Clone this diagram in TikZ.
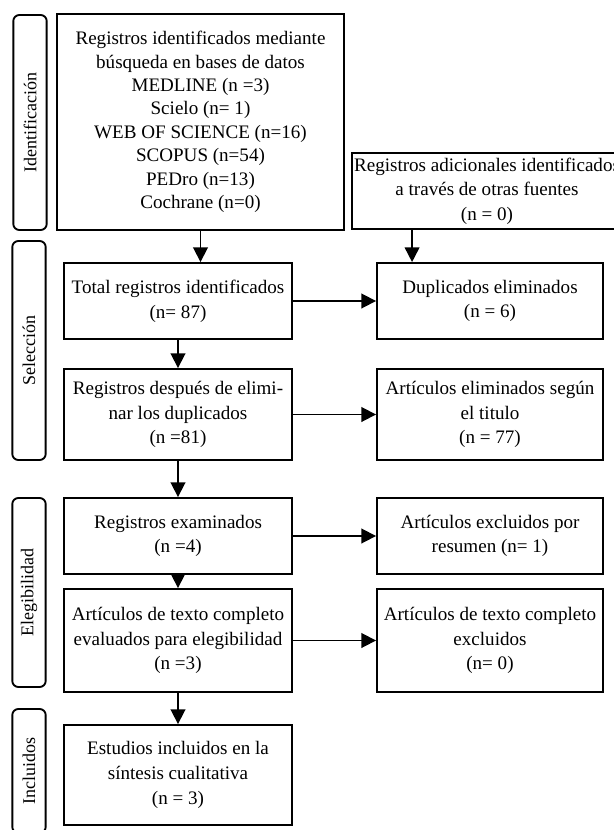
\documentclass[tikz,border=0pt]{standalone}
\usepackage{fontspec}
\setmainfont{Liberation Serif}
\usetikzlibrary{arrows.meta}

\tikzset{every picture/.style={line width=0.75pt}}
\tikzset{
  box/.style={draw, line width=1.4pt, align=center, inner sep=0.75pt, font=\fontsize{14.3}{18.5}\selectfont},
  phase/.style={draw, line width=1.4pt, rounded corners=4.5pt, rotate=90, inner sep=0.75pt, minimum height=25pt, font=\fontsize{13.5}{15}\selectfont},
  arr/.style={-{Triangle[length=11pt,width=11pt]}, line width=1.3pt}
}

\begin{document}
\begin{tikzpicture}[x=0.75pt,y=0.75pt,yscale=-1,xscale=1]
\path[use as bounding box] (0,0) rectangle (613,830); %set diagram size

%Phase labels
\node [phase, minimum width=161.25pt] (lblid) at (30,122.5) {Identificación};
\node [phase, minimum width=164.25pt] (lblsel) at (29,350.5) {Selección};
\node [phase, minimum width=141.75pt] (lblele) at (29,592.5) {Elegibilidad};
\node [phase, minimum width=93pt] (lblinc) at (29,771) {Incluidos};

%Identification
\node [box, minimum width=215.25pt, minimum height=162pt, font=\fontsize{14.3}{17.6}\selectfont] (ident) at (200.5,122) {Registros identificados mediante\\ búsqueda en bases de datos\\ MEDLINE (n =3)\\ Scielo (n= 1)\\ WEB OF SCIENCE (n=16)\\ SCOPUS (n=54)\\ PEDro (n=13)\\ Cochrane (n=0)};
\node [box, minimum width=202.5pt, minimum height=57pt] (extra) at (487,191) {Registros adicionales identificados\\ a través de otras fuentes\\ (n = 0)};

%Screening
\node [box, minimum width=171pt, minimum height=57pt] (total) at (178,301) {Total registros identificados\\ (n= 87)};
\node [box, minimum width=169.5pt, minimum height=57pt] (dupl) at (490,301) {Duplicados eliminados\\ (n = 6)};
\node [box, minimum width=171pt, minimum height=68.25pt] (nodup) at (178,414.5) {Registros después de elimi-\\ nar los duplicados\\ (n =81)};
\node [box, minimum width=169.5pt, minimum height=68.25pt] (title) at (490,414.5) {Artículos eliminados según\\ el titulo\\ (n = 77)};

%Eligibility
\node [box, minimum width=171pt, minimum height=57pt] (exam) at (178,536) {Registros examinados\\ (n =4)};
\node [box, minimum width=169.5pt, minimum height=57pt] (abstr) at (490,536) {Artículos excluidos por\\ resumen (n= 1)};
\node [box, minimum width=171pt, minimum height=77.25pt] (full) at (178,640.5) {Artículos de texto completo\\ evaluados para elegibilidad\\ (n =3)};
\node [box, minimum width=169.5pt, minimum height=77.25pt] (fullex) at (490,640.5) {Artículos de texto completo\\ excluidos\\ (n= 0)};

%Included
\node [box, minimum width=171pt, minimum height=75pt] (incl) at (178,775) {Estudios incluidos en la\\ síntesis cualitativa\\ (n = 3)};

%Arrows
\draw [arr] (ident.south) -- (ident.south |- total.north);
\draw [arr] ([xshift=27pt]dupl.north west |- extra.south) -- ([xshift=27pt]dupl.north west);
\draw [arr] (total.east) -- (dupl.west);
\draw [arr] (total.south) -- (nodup.north);
\draw [arr] (nodup.east) -- (title.west);
\draw [arr] (nodup.south) -- (exam.north);
\draw [arr] (exam.east) -- (abstr.west);
\draw [arr] (exam.south) -- (full.north);
\draw [arr] (full.east) -- (fullex.west);
\draw [arr] (full.south) -- (incl.north);

\end{tikzpicture}
\end{document}
